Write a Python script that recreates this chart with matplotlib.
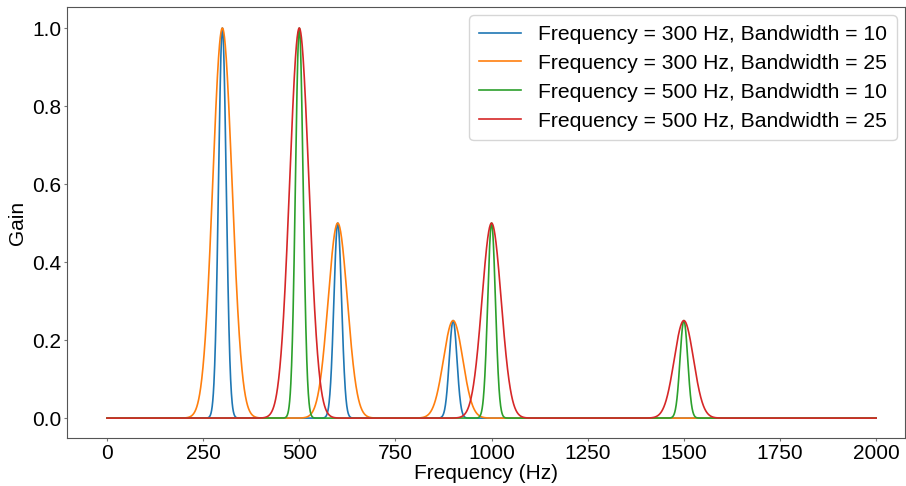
import numpy as np
import matplotlib.pyplot as plt

plt.rcParams['font.family'] = ['Liberation Sans', 'DejaVu Sans']

# Peak parameters
fundamentals = [300, 500]          # Hz
bandwidths = [10, 25]
harmonic_numbers = [1, 2, 3]
harmonic_gains = [1.0, 0.5, 0.25]

freq_min = 0
freq_max = 2000


def gain_curve(freqs, f0, bw):
    """高調波ごとのガウス型ピークを合成"""
    g = np.zeros_like(freqs)
    for n, a in zip(harmonic_numbers, harmonic_gains):
        g += a * np.exp(-((freqs - n * f0) ** 2) / (2 * bw ** 2))
    return g


freqs = np.linspace(freq_min, freq_max, 4001)

fig = plt.figure(figsize=(9.06, 4.86), dpi=100)
ax = fig.add_axes([67 / 906, 48 / 486, 838 / 906, 431 / 486])

for f0 in fundamentals:
    for bw in bandwidths:
        ax.plot(freqs, gain_curve(freqs, f0, bw), linewidth=1.2,
                label=f'Frequency = {f0} Hz, Bandwidth = {bw}')

ax.set_xlim(-104, 2075)
ax.set_ylim(-0.051, 1.054)
ax.set_xticks(range(0, 2001, 250))
ax.set_xlabel('Frequency (Hz)', fontsize=15, labelpad=1)
ax.set_ylabel('Gain', fontsize=15, labelpad=4)
ax.tick_params(labelsize=15, length=2.5, pad=1.5, color='#777777')
for s in ax.spines.values():
    s.set_color('#555555')
ax.legend(loc='upper right', prop={'size': 15.2}, handlelength=2,
          borderaxespad=0.4, borderpad=0.45, labelspacing=0.47)

fig.savefig('out.png', dpi=100)
